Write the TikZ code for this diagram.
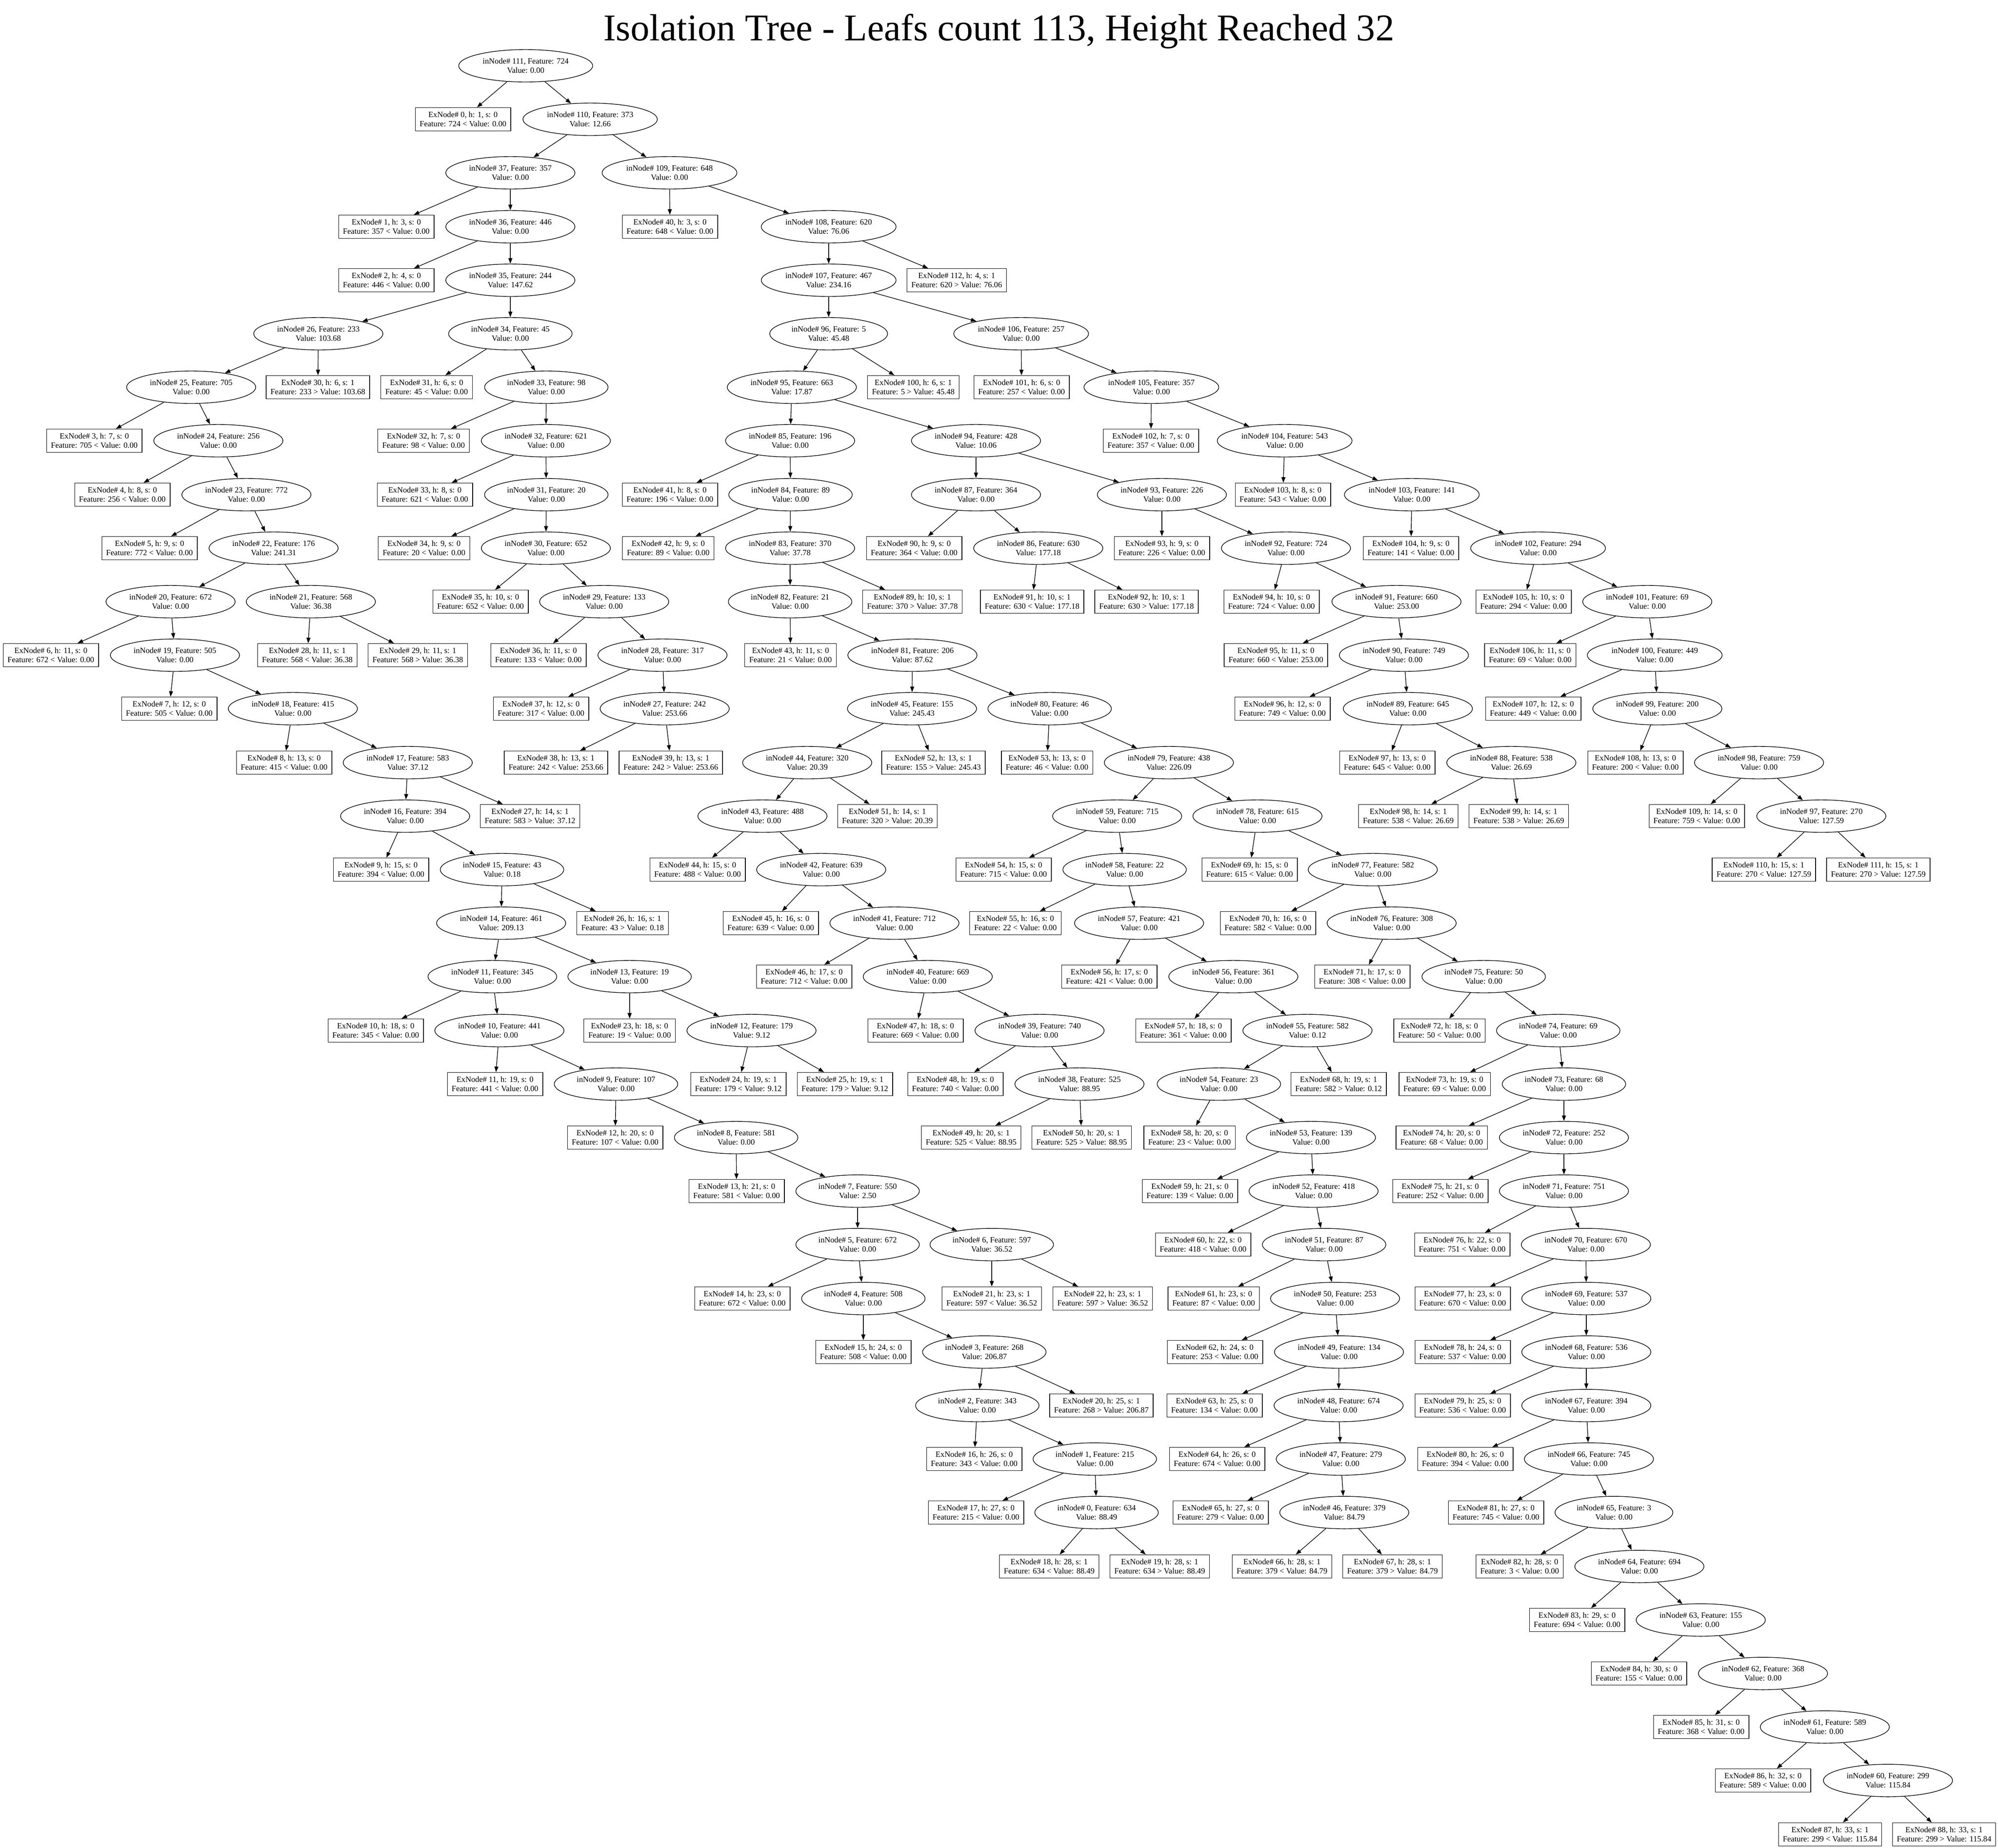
\documentclass[tikz,border=0pt]{standalone}
\usepackage{fontspec}
\setmainfont{Liberation Serif}
\usetikzlibrary{arrows.meta,shapes.geometric}
\tikzset{
	innode/.style={draw,ellipse,align=center,inner xsep=0.1cm,inner ysep=0.02cm,minimum height=0.74cm,font=\fontsize{5.2}{6.1}\selectfont},
	exnode/.style={draw,rectangle,align=center,inner xsep=0.1cm,inner ysep=0.02cm,minimum height=0.53cm,font=\fontsize{5.2}{6.1}\selectfont},
	link/.style={line width=0.4pt,-{Triangle[length=3.6pt,width=2.6pt]}}
}
\begin{document}
\begin{tikzpicture}
	\fill[white] (0,0) rectangle (45.57,-42.13);
	\useasboundingbox (0,0) rectangle (45.57,-42.13);
	\node[anchor=base,font=\fontsize{24.5}{29}\selectfont] (title) at (22.78,-0.92) {Isolation Tree - Leafs count 113, Height Reached 32};

	\node[innode] (in111) at (11.99,-1.50) {inNode\# 111, Feature: 724\\Value: 0.00};

	\node[exnode] (ex0) at (10.56,-2.72) {ExNode\# 0, h: 1, s: 0\\Feature: 724 < Value: 0.00};
	\node[innode] (in110) at (13.46,-2.72) {inNode\# 110, Feature: 373\\Value: 12.66};

	\node[innode] (in37) at (11.64,-3.94) {inNode\# 37, Feature: 357\\Value: 0.00};
	\node[innode] (in109) at (15.27,-3.94) {inNode\# 109, Feature: 648\\Value: 0.00};

	\node[exnode] (ex1) at (8.81,-5.17) {ExNode\# 1, h: 3, s: 0\\Feature: 357 < Value: 0.00};
	\node[innode] (in36) at (11.64,-5.17) {inNode\# 36, Feature: 446\\Value: 0.00};
	\node[exnode] (ex40) at (15.28,-5.17) {ExNode\# 40, h: 3, s: 0\\Feature: 648 < Value: 0.00};
	\node[innode] (in108) at (18.90,-5.17) {inNode\# 108, Feature: 620\\Value: 76.06};

	\node[exnode] (ex2) at (8.81,-6.39) {ExNode\# 2, h: 4, s: 0\\Feature: 446 < Value: 0.00};
	\node[innode] (in35) at (11.64,-6.39) {inNode\# 35, Feature: 244\\Value: 147.62};
	\node[innode] (in107) at (18.90,-6.39) {inNode\# 107, Feature: 467\\Value: 234.16};
	\node[exnode] (ex112) at (21.82,-6.39) {ExNode\# 112, h: 4, s: 1\\Feature: 620 > Value: 76.06};

	\node[innode] (in26) at (7.26,-7.61) {inNode\# 26, Feature: 233\\Value: 103.68};
	\node[innode] (in34) at (11.64,-7.61) {inNode\# 34, Feature: 45\\Value: 0.00};
	\node[innode] (in96) at (18.90,-7.61) {inNode\# 96, Feature: 5\\Value: 45.48};
	\node[innode] (in106) at (23.29,-7.61) {inNode\# 106, Feature: 257\\Value: 0.00};

	\node[innode] (in25) at (4.36,-8.83) {inNode\# 25, Feature: 705\\Value: 0.00};
	\node[exnode] (ex30) at (7.25,-8.83) {ExNode\# 30, h: 6, s: 1\\Feature: 233 > Value: 103.68};
	\node[exnode] (ex31) at (9.73,-8.83) {ExNode\# 31, h: 6, s: 0\\Feature: 45 < Value: 0.00};
	\node[innode] (in33) at (12.46,-8.83) {inNode\# 33, Feature: 98\\Value: 0.00};
	\node[innode] (in95) at (18.06,-8.83) {inNode\# 95, Feature: 663\\Value: 17.87};
	\node[exnode] (ex100) at (20.83,-8.83) {ExNode\# 100, h: 6, s: 1\\Feature: 5 > Value: 45.48};
	\node[exnode] (ex101) at (23.30,-8.83) {ExNode\# 101, h: 6, s: 0\\Feature: 257 < Value: 0.00};
	\node[innode] (in105) at (26.26,-8.83) {inNode\# 105, Feature: 357\\Value: 0.00};

	\node[exnode] (ex3) at (2.15,-10.05) {ExNode\# 3, h: 7, s: 0\\Feature: 705 < Value: 0.00};
	\node[innode] (in24) at (4.98,-10.05) {inNode\# 24, Feature: 256\\Value: 0.00};
	\node[exnode] (ex32) at (9.66,-10.05) {ExNode\# 32, h: 7, s: 0\\Feature: 98 < Value: 0.00};
	\node[innode] (in32) at (12.45,-10.05) {inNode\# 32, Feature: 621\\Value: 0.00};
	\node[innode] (in85) at (18.02,-10.05) {inNode\# 85, Feature: 196\\Value: 0.00};
	\node[innode] (in94) at (22.26,-10.05) {inNode\# 94, Feature: 428\\Value: 10.06};
	\node[exnode] (ex102) at (26.25,-10.05) {ExNode\# 102, h: 7, s: 0\\Feature: 357 < Value: 0.00};
	\node[innode] (in104) at (29.30,-10.05) {inNode\# 104, Feature: 543\\Value: 0.00};

	\node[exnode] (ex4) at (2.79,-11.28) {ExNode\# 4, h: 8, s: 0\\Feature: 256 < Value: 0.00};
	\node[innode] (in23) at (5.62,-11.28) {inNode\# 23, Feature: 772\\Value: 0.00};
	\node[exnode] (ex33) at (9.69,-11.28) {ExNode\# 33, h: 8, s: 0\\Feature: 621 < Value: 0.00};
	\node[innode] (in31) at (12.46,-11.28) {inNode\# 31, Feature: 20\\Value: 0.00};
	\node[exnode] (ex41) at (15.28,-11.28) {ExNode\# 41, h: 8, s: 0\\Feature: 196 < Value: 0.00};
	\node[innode] (in84) at (18.03,-11.28) {inNode\# 84, Feature: 89\\Value: 0.00};
	\node[innode] (in87) at (22.26,-11.28) {inNode\# 87, Feature: 364\\Value: 0.00};
	\node[innode] (in93) at (26.50,-11.28) {inNode\# 93, Feature: 226\\Value: 0.00};
	\node[exnode] (ex103) at (29.26,-11.28) {ExNode\# 103, h: 8, s: 0\\Feature: 543 < Value: 0.00};
	\node[innode] (in103) at (32.20,-11.28) {inNode\# 103, Feature: 141\\Value: 0.00};

	\node[exnode] (ex5) at (3.41,-12.50) {ExNode\# 5, h: 9, s: 0\\Feature: 772 < Value: 0.00};
	\node[innode] (in22) at (6.24,-12.50) {inNode\# 22, Feature: 176\\Value: 241.31};
	\node[exnode] (ex34) at (9.67,-12.50) {ExNode\# 34, h: 9, s: 0\\Feature: 20 < Value: 0.00};
	\node[innode] (in30) at (12.45,-12.50) {inNode\# 30, Feature: 652\\Value: 0.00};
	\node[exnode] (ex42) at (15.24,-12.50) {ExNode\# 42, h: 9, s: 0\\Feature: 89 < Value: 0.00};
	\node[innode] (in83) at (18.02,-12.50) {inNode\# 83, Feature: 370\\Value: 37.78};
	\node[exnode] (ex90) at (20.85,-12.50) {ExNode\# 90, h: 9, s: 0\\Feature: 364 < Value: 0.00};
	\node[innode] (in86) at (23.68,-12.50) {inNode\# 86, Feature: 630\\Value: 177.18};
	\node[exnode] (ex93) at (26.50,-12.50) {ExNode\# 93, h: 9, s: 0\\Feature: 226 < Value: 0.00};
	\node[innode] (in92) at (29.33,-12.50) {inNode\# 92, Feature: 724\\Value: 0.00};
	\node[exnode] (ex104) at (32.18,-12.50) {ExNode\# 104, h: 9, s: 0\\Feature: 141 < Value: 0.00};
	\node[innode] (in102) at (35.08,-12.50) {inNode\# 102, Feature: 294\\Value: 0.00};

	\node[innode] (in20) at (3.89,-13.72) {inNode\# 20, Feature: 672\\Value: 0.00};
	\node[innode] (in21) at (7.09,-13.72) {inNode\# 21, Feature: 568\\Value: 36.38};
	\node[exnode] (ex35) at (10.96,-13.72) {ExNode\# 35, h: 10, s: 0\\Feature: 652 < Value: 0.00};
	\node[innode] (in29) at (13.78,-13.72) {inNode\# 29, Feature: 133\\Value: 0.00};
	\node[innode] (in82) at (18.02,-13.72) {inNode\# 82, Feature: 21\\Value: 0.00};
	\node[exnode] (ex89) at (20.81,-13.72) {ExNode\# 89, h: 10, s: 1\\Feature: 370 > Value: 37.78};
	\node[exnode] (ex91) at (23.54,-13.72) {ExNode\# 91, h: 10, s: 1\\Feature: 630 < Value: 177.18};
	\node[exnode] (ex92) at (26.15,-13.72) {ExNode\# 92, h: 10, s: 1\\Feature: 630 > Value: 177.18};
	\node[exnode] (ex94) at (29.00,-13.72) {ExNode\# 94, h: 10, s: 0\\Feature: 724 < Value: 0.00};
	\node[innode] (in91) at (31.85,-13.72) {inNode\# 91, Feature: 660\\Value: 253.00};
	\node[exnode] (ex105) at (34.75,-13.72) {ExNode\# 105, h: 10, s: 0\\Feature: 294 < Value: 0.00};
	\node[innode] (in101) at (37.57,-13.72) {inNode\# 101, Feature: 69\\Value: 0.00};

	\node[exnode] (ex6) at (1.16,-14.94) {ExNode\# 6, h: 11, s: 0\\Feature: 672 < Value: 0.00};
	\node[innode] (in19) at (3.99,-14.94) {inNode\# 19, Feature: 505\\Value: 0.00};
	\node[exnode] (ex28) at (7.01,-14.94) {ExNode\# 28, h: 11, s: 1\\Feature: 568 < Value: 36.38};
	\node[exnode] (ex29) at (9.53,-14.94) {ExNode\# 29, h: 11, s: 1\\Feature: 568 > Value: 36.38};
	\node[exnode] (ex36) at (12.28,-14.94) {ExNode\# 36, h: 11, s: 0\\Feature: 133 < Value: 0.00};
	\node[innode] (in28) at (15.11,-14.94) {inNode\# 28, Feature: 317\\Value: 0.00};
	\node[exnode] (ex43) at (18.03,-14.94) {ExNode\# 43, h: 11, s: 0\\Feature: 21 < Value: 0.00};
	\node[innode] (in81) at (20.81,-14.94) {inNode\# 81, Feature: 206\\Value: 87.62};
	\node[exnode] (ex95) at (29.10,-14.94) {ExNode\# 95, h: 11, s: 0\\Feature: 660 < Value: 253.00};
	\node[innode] (in90) at (32.02,-14.94) {inNode\# 90, Feature: 749\\Value: 0.00};
	\node[exnode] (ex106) at (34.90,-14.94) {ExNode\# 106, h: 11, s: 0\\Feature: 69 < Value: 0.00};
	\node[innode] (in100) at (37.74,-14.94) {inNode\# 100, Feature: 449\\Value: 0.00};

	\node[exnode] (ex7) at (3.86,-16.16) {ExNode\# 7, h: 12, s: 0\\Feature: 505 < Value: 0.00};
	\node[innode] (in18) at (6.68,-16.16) {inNode\# 18, Feature: 415\\Value: 0.00};
	\node[exnode] (ex37) at (12.34,-16.16) {ExNode\# 37, h: 12, s: 0\\Feature: 317 < Value: 0.00};
	\node[innode] (in27) at (15.16,-16.16) {inNode\# 27, Feature: 242\\Value: 253.66};
	\node[innode] (in45) at (20.80,-16.16) {inNode\# 45, Feature: 155\\Value: 245.43};
	\node[innode] (in80) at (23.94,-16.16) {inNode\# 80, Feature: 46\\Value: 0.00};
	\node[exnode] (ex96) at (29.25,-16.16) {ExNode\# 96, h: 12, s: 0\\Feature: 749 < Value: 0.00};
	\node[innode] (in89) at (32.11,-16.16) {inNode\# 89, Feature: 645\\Value: 0.00};
	\node[exnode] (ex107) at (34.97,-16.16) {ExNode\# 107, h: 12, s: 0\\Feature: 449 < Value: 0.00};
	\node[innode] (in99) at (37.80,-16.16) {inNode\# 99, Feature: 200\\Value: 0.00};

	\node[exnode] (ex8) at (6.48,-17.39) {ExNode\# 8, h: 13, s: 0\\Feature: 415 < Value: 0.00};
	\node[innode] (in17) at (9.30,-17.39) {inNode\# 17, Feature: 583\\Value: 37.12};
	\node[exnode] (ex38) at (12.68,-17.39) {ExNode\# 38, h: 13, s: 1\\Feature: 242 < Value: 253.66};
	\node[exnode] (ex39) at (15.30,-17.39) {ExNode\# 39, h: 13, s: 1\\Feature: 242 > Value: 253.66};
	\node[innode] (in44) at (18.41,-17.39) {inNode\# 44, Feature: 320\\Value: 20.39};
	\node[exnode] (ex52) at (21.29,-17.39) {ExNode\# 52, h: 13, s: 1\\Feature: 155 > Value: 245.43};
	\node[exnode] (ex53) at (23.88,-17.39) {ExNode\# 53, h: 13, s: 0\\Feature: 46 < Value: 0.00};
	\node[innode] (in79) at (26.66,-17.39) {inNode\# 79, Feature: 438\\Value: 226.09};
	\node[exnode] (ex97) at (31.64,-17.39) {ExNode\# 97, h: 13, s: 0\\Feature: 645 < Value: 0.00};
	\node[innode] (in88) at (34.47,-17.39) {inNode\# 88, Feature: 538\\Value: 26.69};
	\node[exnode] (ex108) at (37.30,-17.39) {ExNode\# 108, h: 13, s: 0\\Feature: 200 < Value: 0.00};
	\node[innode] (in98) at (40.12,-17.39) {inNode\# 98, Feature: 759\\Value: 0.00};

	\node[innode] (in16) at (9.24,-18.61) {inNode\# 16, Feature: 394\\Value: 0.00};
	\node[exnode] (ex27) at (12.09,-18.61) {ExNode\# 27, h: 14, s: 1\\Feature: 583 > Value: 37.12};
	\node[innode] (in43) at (17.39,-18.61) {inNode\# 43, Feature: 488\\Value: 0.00};
	\node[exnode] (ex51) at (20.24,-18.61) {ExNode\# 51, h: 14, s: 1\\Feature: 320 > Value: 20.39};
	\node[innode] (in59) at (25.48,-18.61) {inNode\# 59, Feature: 715\\Value: 0.00};
	\node[innode] (in78) at (28.68,-18.61) {inNode\# 78, Feature: 615\\Value: 0.00};
	\node[exnode] (ex98) at (32.12,-18.61) {ExNode\# 98, h: 14, s: 1\\Feature: 538 < Value: 26.69};
	\node[exnode] (ex99) at (34.64,-18.61) {ExNode\# 99, h: 14, s: 1\\Feature: 538 > Value: 26.69};
	\node[exnode] (ex109) at (38.70,-18.61) {ExNode\# 109, h: 14, s: 0\\Feature: 759 < Value: 0.00};
	\node[innode] (in97) at (41.54,-18.61) {inNode\# 97, Feature: 270\\Value: 127.59};

	\node[exnode] (ex9) at (8.69,-19.83) {ExNode\# 9, h: 15, s: 0\\Feature: 394 < Value: 0.00};
	\node[innode] (in15) at (11.45,-19.83) {inNode\# 15, Feature: 43\\Value: 0.18};
	\node[exnode] (ex44) at (15.91,-19.83) {ExNode\# 44, h: 15, s: 0\\Feature: 488 < Value: 0.00};
	\node[innode] (in42) at (18.73,-19.83) {inNode\# 42, Feature: 639\\Value: 0.00};
	\node[exnode] (ex54) at (22.89,-19.83) {ExNode\# 54, h: 15, s: 0\\Feature: 715 < Value: 0.00};
	\node[innode] (in58) at (25.65,-19.83) {inNode\# 58, Feature: 22\\Value: 0.00};
	\node[exnode] (ex69) at (28.50,-19.83) {ExNode\# 69, h: 15, s: 0\\Feature: 615 < Value: 0.00};
	\node[innode] (in77) at (31.31,-19.83) {inNode\# 77, Feature: 582\\Value: 0.00};
	\node[exnode] (ex110) at (40.23,-19.83) {ExNode\# 110, h: 15, s: 1\\Feature: 270 < Value: 127.59};
	\node[exnode] (ex111) at (42.84,-19.83) {ExNode\# 111, h: 15, s: 1\\Feature: 270 > Value: 127.59};

	\node[innode] (in14) at (11.43,-21.05) {inNode\# 14, Feature: 461\\Value: 209.13};
	\node[exnode] (ex26) at (14.20,-21.05) {ExNode\# 26, h: 16, s: 1\\Feature: 43 > Value: 0.18};
	\node[exnode] (ex45) at (17.58,-21.05) {ExNode\# 45, h: 16, s: 0\\Feature: 639 < Value: 0.00};
	\node[innode] (in41) at (20.40,-21.05) {inNode\# 41, Feature: 712\\Value: 0.00};
	\node[exnode] (ex55) at (23.16,-21.05) {ExNode\# 55, h: 16, s: 0\\Feature: 22 < Value: 0.00};
	\node[innode] (in57) at (25.98,-21.05) {inNode\# 57, Feature: 421\\Value: 0.00};
	\node[exnode] (ex70) at (28.92,-21.05) {ExNode\# 70, h: 16, s: 0\\Feature: 582 < Value: 0.00};
	\node[innode] (in76) at (31.74,-21.05) {inNode\# 76, Feature: 308\\Value: 0.00};

	\node[innode] (in11) at (11.23,-22.27) {inNode\# 11, Feature: 345\\Value: 0.00};
	\node[innode] (in13) at (14.36,-22.27) {inNode\# 13, Feature: 19\\Value: 0.00};
	\node[exnode] (ex46) at (18.34,-22.27) {ExNode\# 46, h: 17, s: 0\\Feature: 712 < Value: 0.00};
	\node[innode] (in40) at (21.16,-22.27) {inNode\# 40, Feature: 669\\Value: 0.00};
	\node[exnode] (ex56) at (25.30,-22.27) {ExNode\# 56, h: 17, s: 0\\Feature: 421 < Value: 0.00};
	\node[innode] (in56) at (28.13,-22.27) {inNode\# 56, Feature: 361\\Value: 0.00};
	\node[exnode] (ex71) at (31.07,-22.27) {ExNode\# 71, h: 17, s: 0\\Feature: 308 < Value: 0.00};
	\node[innode] (in75) at (33.84,-22.27) {inNode\# 75, Feature: 50\\Value: 0.00};

	\node[exnode] (ex10) at (8.57,-23.50) {ExNode\# 10, h: 18, s: 0\\Feature: 345 < Value: 0.00};
	\node[innode] (in10) at (11.39,-23.50) {inNode\# 10, Feature: 441\\Value: 0.00};
	\node[exnode] (ex23) at (14.36,-23.50) {ExNode\# 23, h: 18, s: 0\\Feature: 19 < Value: 0.00};
	\node[innode] (in12) at (17.14,-23.50) {inNode\# 12, Feature: 179\\Value: 9.12};
	\node[exnode] (ex47) at (20.88,-23.50) {ExNode\# 47, h: 18, s: 0\\Feature: 669 < Value: 0.00};
	\node[innode] (in39) at (23.71,-23.50) {inNode\# 39, Feature: 740\\Value: 0.00};
	\node[exnode] (ex57) at (26.99,-23.50) {ExNode\# 57, h: 18, s: 0\\Feature: 361 < Value: 0.00};
	\node[innode] (in55) at (29.82,-23.50) {inNode\# 55, Feature: 582\\Value: 0.12};
	\node[exnode] (ex72) at (32.83,-23.50) {ExNode\# 72, h: 18, s: 0\\Feature: 50 < Value: 0.00};
	\node[innode] (in74) at (35.54,-23.50) {inNode\# 74, Feature: 69\\Value: 0.00};

	\node[exnode] (ex11) at (11.29,-24.72) {ExNode\# 11, h: 19, s: 0\\Feature: 441 < Value: 0.00};
	\node[innode] (in9) at (14.05,-24.72) {inNode\# 9, Feature: 107\\Value: 0.00};
	\node[exnode] (ex24) at (16.84,-24.72) {ExNode\# 24, h: 19, s: 1\\Feature: 179 < Value: 9.12};
	\node[exnode] (ex25) at (19.27,-24.72) {ExNode\# 25, h: 19, s: 1\\Feature: 179 > Value: 9.12};
	\node[exnode] (ex48) at (21.79,-24.72) {ExNode\# 48, h: 19, s: 0\\Feature: 740 < Value: 0.00};
	\node[innode] (in38) at (24.62,-24.72) {inNode\# 38, Feature: 525\\Value: 88.95};
	\node[innode] (in54) at (27.80,-24.72) {inNode\# 54, Feature: 23\\Value: 0.00};
	\node[exnode] (ex68) at (30.53,-24.72) {ExNode\# 68, h: 19, s: 1\\Feature: 582 > Value: 0.12};
	\node[exnode] (ex73) at (32.95,-24.72) {ExNode\# 73, h: 19, s: 0\\Feature: 69 < Value: 0.00};
	\node[innode] (in73) at (35.67,-24.72) {inNode\# 73, Feature: 68\\Value: 0.00};

	\node[exnode] (ex12) at (14.03,-25.94) {ExNode\# 12, h: 20, s: 0\\Feature: 107 < Value: 0.00};
	\node[innode] (in8) at (16.79,-25.94) {inNode\# 8, Feature: 581\\Value: 0.00};
	\node[exnode] (ex49) at (22.15,-25.94) {ExNode\# 49, h: 20, s: 1\\Feature: 525 < Value: 88.95};
	\node[exnode] (ex50) at (24.67,-25.94) {ExNode\# 50, h: 20, s: 1\\Feature: 525 > Value: 88.95};
	\node[exnode] (ex58) at (27.13,-25.94) {ExNode\# 58, h: 20, s: 0\\Feature: 23 < Value: 0.00};
	\node[innode] (in53) at (29.90,-25.94) {inNode\# 53, Feature: 139\\Value: 0.00};
	\node[exnode] (ex74) at (32.88,-25.94) {ExNode\# 74, h: 20, s: 0\\Feature: 68 < Value: 0.00};
	\node[innode] (in72) at (35.67,-25.94) {inNode\# 72, Feature: 252\\Value: 0.00};

	\node[exnode] (ex13) at (16.80,-27.16) {ExNode\# 13, h: 21, s: 0\\Feature: 581 < Value: 0.00};
	\node[innode] (in7) at (19.56,-27.16) {inNode\# 7, Feature: 550\\Value: 2.50};
	\node[exnode] (ex59) at (27.14,-27.16) {ExNode\# 59, h: 21, s: 0\\Feature: 139 < Value: 0.00};
	\node[innode] (in52) at (29.96,-27.16) {inNode\# 52, Feature: 418\\Value: 0.00};
	\node[exnode] (ex75) at (32.85,-27.16) {ExNode\# 75, h: 21, s: 0\\Feature: 252 < Value: 0.00};
	\node[innode] (in71) at (35.67,-27.16) {inNode\# 71, Feature: 751\\Value: 0.00};

	\node[innode] (in5) at (19.56,-28.38) {inNode\# 5, Feature: 672\\Value: 0.00};
	\node[innode] (in6) at (22.62,-28.38) {inNode\# 6, Feature: 597\\Value: 36.52};
	\node[exnode] (ex60) at (27.44,-28.38) {ExNode\# 60, h: 22, s: 0\\Feature: 418 < Value: 0.00};
	\node[innode] (in51) at (30.20,-28.38) {inNode\# 51, Feature: 87\\Value: 0.00};
	\node[exnode] (ex76) at (33.35,-28.38) {ExNode\# 76, h: 22, s: 0\\Feature: 751 < Value: 0.00};
	\node[innode] (in70) at (36.17,-28.38) {inNode\# 70, Feature: 670\\Value: 0.00};

	\node[exnode] (ex14) at (16.93,-29.61) {ExNode\# 14, h: 23, s: 0\\Feature: 672 < Value: 0.00};
	\node[innode] (in4) at (19.69,-29.61) {inNode\# 4, Feature: 508\\Value: 0.00};
	\node[exnode] (ex21) at (22.62,-29.61) {ExNode\# 21, h: 23, s: 1\\Feature: 597 < Value: 36.52};
	\node[exnode] (ex22) at (25.15,-29.61) {ExNode\# 22, h: 23, s: 1\\Feature: 597 > Value: 36.52};
	\node[exnode] (ex61) at (27.68,-29.61) {ExNode\# 61, h: 23, s: 0\\Feature: 87 < Value: 0.00};
	\node[innode] (in50) at (30.45,-29.61) {inNode\# 50, Feature: 253\\Value: 0.00};
	\node[exnode] (ex77) at (33.36,-29.61) {ExNode\# 77, h: 23, s: 0\\Feature: 670 < Value: 0.00};
	\node[innode] (in69) at (36.18,-29.61) {inNode\# 69, Feature: 537\\Value: 0.00};

	\node[exnode] (ex15) at (19.69,-30.83) {ExNode\# 15, h: 24, s: 0\\Feature: 508 < Value: 0.00};
	\node[innode] (in3) at (22.45,-30.83) {inNode\# 3, Feature: 268\\Value: 206.87};
	\node[exnode] (ex62) at (27.71,-30.83) {ExNode\# 62, h: 24, s: 0\\Feature: 253 < Value: 0.00};
	\node[innode] (in49) at (30.54,-30.83) {inNode\# 49, Feature: 134\\Value: 0.00};
	\node[exnode] (ex78) at (33.36,-30.83) {ExNode\# 78, h: 24, s: 0\\Feature: 537 < Value: 0.00};
	\node[innode] (in68) at (36.18,-30.83) {inNode\# 68, Feature: 536\\Value: 0.00};

	\node[innode] (in2) at (22.29,-32.05) {inNode\# 2, Feature: 343\\Value: 0.00};
	\node[exnode] (ex20) at (25.12,-32.05) {ExNode\# 20, h: 25, s: 1\\Feature: 268 > Value: 206.87};
	\node[exnode] (ex63) at (27.70,-32.05) {ExNode\# 63, h: 25, s: 0\\Feature: 134 < Value: 0.00};
	\node[innode] (in48) at (30.53,-32.05) {inNode\# 48, Feature: 674\\Value: 0.00};
	\node[exnode] (ex79) at (33.36,-32.05) {ExNode\# 79, h: 25, s: 0\\Feature: 536 < Value: 0.00};
	\node[innode] (in67) at (36.18,-32.05) {inNode\# 67, Feature: 394\\Value: 0.00};

	\node[exnode] (ex16) at (22.22,-33.27) {ExNode\# 16, h: 26, s: 0\\Feature: 343 < Value: 0.00};
	\node[innode] (in1) at (24.97,-33.27) {inNode\# 1, Feature: 215\\Value: 0.00};
	\node[exnode] (ex64) at (27.76,-33.27) {ExNode\# 64, h: 26, s: 0\\Feature: 674 < Value: 0.00};
	\node[innode] (in47) at (30.58,-33.27) {inNode\# 47, Feature: 279\\Value: 0.00};
	\node[exnode] (ex80) at (33.42,-33.27) {ExNode\# 80, h: 26, s: 0\\Feature: 394 < Value: 0.00};
	\node[innode] (in66) at (36.24,-33.27) {inNode\# 66, Feature: 745\\Value: 0.00};

	\node[exnode] (ex17) at (22.26,-34.49) {ExNode\# 17, h: 27, s: 0\\Feature: 215 < Value: 0.00};
	\node[innode] (in0) at (25.01,-34.49) {inNode\# 0, Feature: 634\\Value: 88.49};
	\node[exnode] (ex65) at (27.84,-34.49) {ExNode\# 65, h: 27, s: 0\\Feature: 279 < Value: 0.00};
	\node[innode] (in46) at (30.66,-34.49) {inNode\# 46, Feature: 379\\Value: 84.79};
	\node[exnode] (ex81) at (34.12,-34.49) {ExNode\# 81, h: 27, s: 0\\Feature: 745 < Value: 0.00};
	\node[innode] (in65) at (36.81,-34.49) {inNode\# 65, Feature: 3\\Value: 0.00};

	\node[exnode] (ex18) at (23.93,-35.72) {ExNode\# 18, h: 28, s: 1\\Feature: 634 < Value: 88.49};
	\node[exnode] (ex19) at (26.45,-35.72) {ExNode\# 19, h: 28, s: 1\\Feature: 634 > Value: 88.49};
	\node[exnode] (ex66) at (29.24,-35.72) {ExNode\# 66, h: 28, s: 1\\Feature: 379 < Value: 84.79};
	\node[exnode] (ex67) at (31.76,-35.72) {ExNode\# 67, h: 28, s: 1\\Feature: 379 > Value: 84.79};
	\node[exnode] (ex82) at (34.66,-35.72) {ExNode\# 82, h: 28, s: 0\\Feature: 3 < Value: 0.00};
	\node[innode] (in64) at (37.39,-35.72) {inNode\# 64, Feature: 694\\Value: 0.00};

	\node[exnode] (ex83) at (35.97,-36.94) {ExNode\# 83, h: 29, s: 0\\Feature: 694 < Value: 0.00};
	\node[innode] (in63) at (38.79,-36.94) {inNode\# 63, Feature: 155\\Value: 0.00};

	\node[exnode] (ex84) at (37.38,-38.16) {ExNode\# 84, h: 30, s: 0\\Feature: 155 < Value: 0.00};
	\node[innode] (in62) at (40.21,-38.16) {inNode\# 62, Feature: 368\\Value: 0.00};

	\node[exnode] (ex85) at (38.80,-39.38) {ExNode\# 85, h: 31, s: 0\\Feature: 368 < Value: 0.00};
	\node[innode] (in61) at (41.62,-39.38) {inNode\# 61, Feature: 589\\Value: 0.00};

	\node[exnode] (ex86) at (40.21,-40.60) {ExNode\# 86, h: 32, s: 0\\Feature: 589 < Value: 0.00};
	\node[innode] (in60) at (43.06,-40.60) {inNode\# 60, Feature: 299\\Value: 115.84};

	\node[exnode] (ex87) at (41.74,-41.83) {ExNode\# 87, h: 33, s: 1\\Feature: 299 < Value: 115.84};
	\node[exnode] (ex88) at (44.34,-41.83) {ExNode\# 88, h: 33, s: 1\\Feature: 299 > Value: 115.84};

	\draw[link] (in111) -- (ex0);
	\draw[link] (in111) -- (in110);
	\draw[link] (in110) -- (in37);
	\draw[link] (in110) -- (in109);
	\draw[link] (in37) -- (ex1);
	\draw[link] (in37) -- (in36);
	\draw[link] (in36) -- (ex2);
	\draw[link] (in36) -- (in35);
	\draw[link] (in35) -- (in26);
	\draw[link] (in35) -- (in34);
	\draw[link] (in26) -- (in25);
	\draw[link] (in26) -- (ex30);
	\draw[link] (in25) -- (ex3);
	\draw[link] (in25) -- (in24);
	\draw[link] (in24) -- (ex4);
	\draw[link] (in24) -- (in23);
	\draw[link] (in23) -- (ex5);
	\draw[link] (in23) -- (in22);
	\draw[link] (in22) -- (in20);
	\draw[link] (in22) -- (in21);
	\draw[link] (in20) -- (ex6);
	\draw[link] (in20) -- (in19);
	\draw[link] (in19) -- (ex7);
	\draw[link] (in19) -- (in18);
	\draw[link] (in18) -- (ex8);
	\draw[link] (in18) -- (in17);
	\draw[link] (in17) -- (in16);
	\draw[link] (in17) -- (ex27);
	\draw[link] (in16) -- (ex9);
	\draw[link] (in16) -- (in15);
	\draw[link] (in15) -- (in14);
	\draw[link] (in15) -- (ex26);
	\draw[link] (in14) -- (in11);
	\draw[link] (in14) -- (in13);
	\draw[link] (in11) -- (ex10);
	\draw[link] (in11) -- (in10);
	\draw[link] (in10) -- (ex11);
	\draw[link] (in10) -- (in9);
	\draw[link] (in9) -- (ex12);
	\draw[link] (in9) -- (in8);
	\draw[link] (in8) -- (ex13);
	\draw[link] (in8) -- (in7);
	\draw[link] (in7) -- (in5);
	\draw[link] (in7) -- (in6);
	\draw[link] (in5) -- (ex14);
	\draw[link] (in5) -- (in4);
	\draw[link] (in4) -- (ex15);
	\draw[link] (in4) -- (in3);
	\draw[link] (in3) -- (in2);
	\draw[link] (in3) -- (ex20);
	\draw[link] (in2) -- (ex16);
	\draw[link] (in2) -- (in1);
	\draw[link] (in1) -- (ex17);
	\draw[link] (in1) -- (in0);
	\draw[link] (in0) -- (ex18);
	\draw[link] (in0) -- (ex19);
	\draw[link] (in6) -- (ex21);
	\draw[link] (in6) -- (ex22);
	\draw[link] (in13) -- (ex23);
	\draw[link] (in13) -- (in12);
	\draw[link] (in12) -- (ex24);
	\draw[link] (in12) -- (ex25);
	\draw[link] (in21) -- (ex28);
	\draw[link] (in21) -- (ex29);
	\draw[link] (in34) -- (ex31);
	\draw[link] (in34) -- (in33);
	\draw[link] (in33) -- (ex32);
	\draw[link] (in33) -- (in32);
	\draw[link] (in32) -- (ex33);
	\draw[link] (in32) -- (in31);
	\draw[link] (in31) -- (ex34);
	\draw[link] (in31) -- (in30);
	\draw[link] (in30) -- (ex35);
	\draw[link] (in30) -- (in29);
	\draw[link] (in29) -- (ex36);
	\draw[link] (in29) -- (in28);
	\draw[link] (in28) -- (ex37);
	\draw[link] (in28) -- (in27);
	\draw[link] (in27) -- (ex38);
	\draw[link] (in27) -- (ex39);

	\draw[link] (in109) -- (ex40);
	\draw[link] (in109) -- (in108);
	\draw[link] (in108) -- (in107);
	\draw[link] (in108) -- (ex112);
	\draw[link] (in107) -- (in96);
	\draw[link] (in107) -- (in106);
	\draw[link] (in96) -- (in95);
	\draw[link] (in96) -- (ex100);
	\draw[link] (in95) -- (in85);
	\draw[link] (in95) -- (in94);
	\draw[link] (in85) -- (ex41);
	\draw[link] (in85) -- (in84);
	\draw[link] (in84) -- (ex42);
	\draw[link] (in84) -- (in83);
	\draw[link] (in83) -- (in82);
	\draw[link] (in83) -- (ex89);
	\draw[link] (in82) -- (ex43);
	\draw[link] (in82) -- (in81);
	\draw[link] (in81) -- (in45);
	\draw[link] (in81) -- (in80);
	\draw[link] (in45) -- (in44);
	\draw[link] (in45) -- (ex52);
	\draw[link] (in44) -- (in43);
	\draw[link] (in44) -- (ex51);
	\draw[link] (in43) -- (ex44);
	\draw[link] (in43) -- (in42);
	\draw[link] (in42) -- (ex45);
	\draw[link] (in42) -- (in41);
	\draw[link] (in41) -- (ex46);
	\draw[link] (in41) -- (in40);
	\draw[link] (in40) -- (ex47);
	\draw[link] (in40) -- (in39);
	\draw[link] (in39) -- (ex48);
	\draw[link] (in39) -- (in38);
	\draw[link] (in38) -- (ex49);
	\draw[link] (in38) -- (ex50);
	\draw[link] (in80) -- (ex53);
	\draw[link] (in80) -- (in79);
	\draw[link] (in79) -- (in59);
	\draw[link] (in79) -- (in78);
	\draw[link] (in59) -- (ex54);
	\draw[link] (in59) -- (in58);
	\draw[link] (in58) -- (ex55);
	\draw[link] (in58) -- (in57);
	\draw[link] (in57) -- (ex56);
	\draw[link] (in57) -- (in56);
	\draw[link] (in56) -- (ex57);
	\draw[link] (in56) -- (in55);
	\draw[link] (in55) -- (in54);
	\draw[link] (in55) -- (ex68);
	\draw[link] (in54) -- (ex58);
	\draw[link] (in54) -- (in53);
	\draw[link] (in53) -- (ex59);
	\draw[link] (in53) -- (in52);
	\draw[link] (in52) -- (ex60);
	\draw[link] (in52) -- (in51);
	\draw[link] (in51) -- (ex61);
	\draw[link] (in51) -- (in50);
	\draw[link] (in50) -- (ex62);
	\draw[link] (in50) -- (in49);
	\draw[link] (in49) -- (ex63);
	\draw[link] (in49) -- (in48);
	\draw[link] (in48) -- (ex64);
	\draw[link] (in48) -- (in47);
	\draw[link] (in47) -- (ex65);
	\draw[link] (in47) -- (in46);
	\draw[link] (in46) -- (ex66);
	\draw[link] (in46) -- (ex67);
	\draw[link] (in78) -- (ex69);
	\draw[link] (in78) -- (in77);
	\draw[link] (in77) -- (ex70);
	\draw[link] (in77) -- (in76);
	\draw[link] (in76) -- (ex71);
	\draw[link] (in76) -- (in75);
	\draw[link] (in75) -- (ex72);
	\draw[link] (in75) -- (in74);
	\draw[link] (in74) -- (ex73);
	\draw[link] (in74) -- (in73);
	\draw[link] (in73) -- (ex74);
	\draw[link] (in73) -- (in72);
	\draw[link] (in72) -- (ex75);
	\draw[link] (in72) -- (in71);
	\draw[link] (in71) -- (ex76);
	\draw[link] (in71) -- (in70);
	\draw[link] (in70) -- (ex77);
	\draw[link] (in70) -- (in69);
	\draw[link] (in69) -- (ex78);
	\draw[link] (in69) -- (in68);
	\draw[link] (in68) -- (ex79);
	\draw[link] (in68) -- (in67);
	\draw[link] (in67) -- (ex80);
	\draw[link] (in67) -- (in66);
	\draw[link] (in66) -- (ex81);
	\draw[link] (in66) -- (in65);
	\draw[link] (in65) -- (ex82);
	\draw[link] (in65) -- (in64);
	\draw[link] (in64) -- (ex83);
	\draw[link] (in64) -- (in63);
	\draw[link] (in63) -- (ex84);
	\draw[link] (in63) -- (in62);
	\draw[link] (in62) -- (ex85);
	\draw[link] (in62) -- (in61);
	\draw[link] (in61) -- (ex86);
	\draw[link] (in61) -- (in60);
	\draw[link] (in60) -- (ex87);
	\draw[link] (in60) -- (ex88);
	\draw[link] (in94) -- (in87);
	\draw[link] (in94) -- (in93);
	\draw[link] (in87) -- (ex90);
	\draw[link] (in87) -- (in86);
	\draw[link] (in86) -- (ex91);
	\draw[link] (in86) -- (ex92);
	\draw[link] (in93) -- (ex93);
	\draw[link] (in93) -- (in92);
	\draw[link] (in92) -- (ex94);
	\draw[link] (in92) -- (in91);
	\draw[link] (in91) -- (ex95);
	\draw[link] (in91) -- (in90);
	\draw[link] (in90) -- (ex96);
	\draw[link] (in90) -- (in89);
	\draw[link] (in89) -- (ex97);
	\draw[link] (in89) -- (in88);
	\draw[link] (in88) -- (ex98);
	\draw[link] (in88) -- (ex99);
	\draw[link] (in106) -- (ex101);
	\draw[link] (in106) -- (in105);
	\draw[link] (in105) -- (ex102);
	\draw[link] (in105) -- (in104);
	\draw[link] (in104) -- (ex103);
	\draw[link] (in104) -- (in103);
	\draw[link] (in103) -- (ex104);
	\draw[link] (in103) -- (in102);
	\draw[link] (in102) -- (ex105);
	\draw[link] (in102) -- (in101);
	\draw[link] (in101) -- (ex106);
	\draw[link] (in101) -- (in100);
	\draw[link] (in100) -- (ex107);
	\draw[link] (in100) -- (in99);
	\draw[link] (in99) -- (ex108);
	\draw[link] (in99) -- (in98);
	\draw[link] (in98) -- (ex109);
	\draw[link] (in98) -- (in97);
	\draw[link] (in97) -- (ex110);
	\draw[link] (in97) -- (ex111);
\end{tikzpicture}
\end{document}
